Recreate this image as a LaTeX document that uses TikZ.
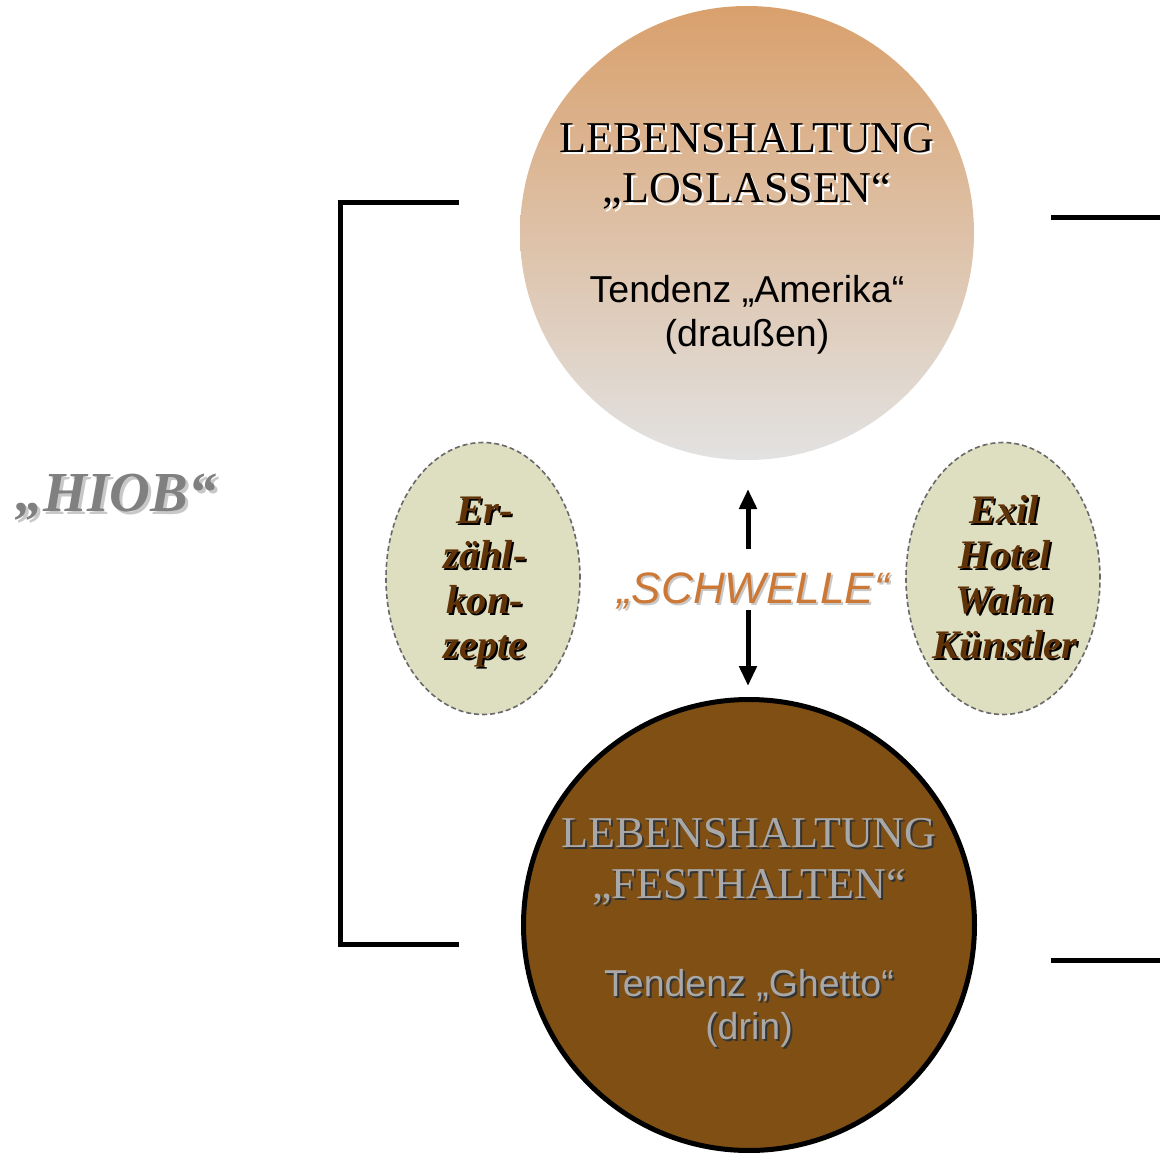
\documentclass[tikz,border=0pt]{standalone}
\usepackage{fontspec}
\setmainfont{Liberation Serif}
\newfontfamily\arialf{Liberation Sans}
\usetikzlibrary{arrows.meta,shapes.geometric}
\definecolor{topor}{RGB}{217,160,108}
\definecolor{topgr}{RGB}{226,226,226}
\definecolor{brownfill}{RGB}{127,79,19}
\definecolor{ellfill}{RGB}{222,222,192}
\definecolor{ellborder}{RGB}{105,105,105}
\definecolor{elltext}{RGB}{96,50,8}
\definecolor{schw}{RGB}{204,120,54}
\definecolor{hiobgrey}{RGB}{128,128,128}
\definecolor{hiobshadow}{RGB}{200,200,200}
\definecolor{lighttext}{RGB}{168,168,168}
\newcommand\myshline[8]{%
  \node[#4, text=#6, anchor=base] (#1s) at ([shift={(#8,#8)}]#2,#3) {#7};
  \node[#4, text=#5, anchor=base] (#1) at (#2,#3) {#7};}
\begin{document}
\begin{tikzpicture}[x=1pt,y=-1pt,
  titlef/.style={font=\fontsize{44}{50}\selectfont, inner sep=0pt},
  subf/.style={font=\arialf\fontsize{37.5}{40}\selectfont, inner sep=0pt},
  ellf/.style={font=\bfseries\itshape\fontsize{40.5}{45}\selectfont, inner sep=0pt},
  hiobf/.style={font=\bfseries\itshape\fontsize{56.5}{60}\selectfont, inner sep=0pt},
  schwf/.style={font=\arialf\itshape\fontsize{44}{50}\selectfont, inner sep=0pt},
  bracketline/.style={line width=5pt},
  arrowline/.style={line width=5pt, -{Triangle[length=20pt,width=17pt]}},
  ellbox/.style={ellipse, draw=ellborder, line width=1.6pt, dash pattern=on 5pt off 3pt,
    fill=ellfill, minimum width=194pt, minimum height=272pt, inner sep=0pt}]
\useasboundingbox[fill=white] (0,0) rectangle (1160,1153);

% circles
\node[circle, inner sep=0pt, minimum size=454pt, top color=topor, bottom color=topgr, draw=none] (top) at (747,233) {};
\node[circle, inner sep=0pt, minimum size=451pt, draw=black, line width=5pt, fill=brownfill] (bot) at (749,925) {};

% ellipses
\node[ellbox] (elll) at (483,578.5) {};
\node[ellbox] (ellr) at (1003,578.5) {};

% bracket left
\coordinate (bla) at (459,203);
\coordinate (blb) at (340,203);
\coordinate (blc) at (340,944);
\coordinate (bld) at (459,944);
\draw[bracketline] (bla) -- (blb) -- (blc) -- (bld);
% lines right
\coordinate (bra) at (1051,217);
\coordinate (brb) at (1160,217);
\coordinate (brc) at (1051,960);
\coordinate (brd) at (1160,960);
\draw[bracketline] (bra) -- (brb);
\draw[bracketline] (brc) -- (brd);

% arrows
\coordinate (upS) at (748,549);
\coordinate (upE) at (748,489);
\coordinate (dnS) at (748,610);
\coordinate (dnE) at (748,686);
\draw[arrowline] (upS) -- (upE);
\draw[arrowline] (dnS) -- (dnE);

% top circle texts
\myshline{tA}{747}{153}{titlef}{black}{white}{LEBENSHALTUNG}{2}
\myshline{tB}{747}{203}{titlef}{black}{white}{„LOSLASSEN“}{2}
\node[subf, anchor=base] (tC) at (747,302) {Tendenz „Amerika“};
\node[subf, anchor=base] (tD) at (747,346) {(draußen)};

% bottom circle texts
\myshline{bA}{749}{847}{titlef}{lighttext}{black!80}{LEBENSHALTUNG}{2}
\myshline{bB}{749}{898}{titlef}{lighttext}{black!80}{„FESTHALTEN“}{2}
\myshline{bC}{749}{996}{subf}{lighttext}{black!80}{Tendenz „Ghetto“}{2}
\myshline{bD}{749}{1039}{subf}{lighttext}{black!80}{(drin)}{2}

% left ellipse texts
\myshline{lA}{485}{523}{ellf}{elltext}{black}{Er-}{2}
\myshline{lB}{485}{568}{ellf}{elltext}{black}{zähl-}{2}
\myshline{lC}{485}{613}{ellf}{elltext}{black}{kon-}{2}
\myshline{lD}{485}{658}{ellf}{elltext}{black}{zepte}{2}

% right ellipse texts
\myshline{rA}{1004}{523}{ellf}{elltext}{black}{Exil}{2}
\myshline{rB}{1005}{568}{ellf}{elltext}{black}{Hotel}{2}
\myshline{rC}{1005}{613}{ellf}{elltext}{black}{Wahn}{2}
\myshline{rD}{1005}{658}{ellf}{elltext}{black}{Künstler}{2}

% HIOB and SCHWELLE
\myshline{hiob}{116}{511}{hiobf}{hiobgrey}{hiobshadow}{„HIOB“}{3}
\myshline{schwelle}{753}{603}{schwf}{schw}{hiobshadow}{„SCHWELLE“}{2}
\end{tikzpicture}
\end{document}
